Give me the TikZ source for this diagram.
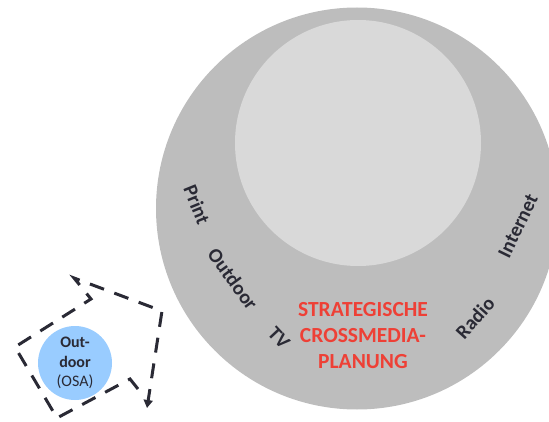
\documentclass[tikz,border=0pt]{standalone}
\usepackage{fontspec}
\setmainfont{Carlito}
\usepackage{tikz}
\usetikzlibrary{arrows.meta}
\usepackage{xcolor}

\definecolor{ringgray}{HTML}{BDBDBD}
\definecolor{coregray}{HTML}{D9D9D9}
\definecolor{mediared}{HTML}{EE4036}
\definecolor{inkdark}{HTML}{2A2A35}
\definecolor{osablue}{HTML}{99CCFF}

\begin{document}
\begin{tikzpicture}[x=1pt, y=-1pt]
    % Define styles
    \tikzstyle{disc} = [circle, inner sep=0pt, draw=none]
    \tikzstyle{channel} = [font=\fontsize{20}{23}\selectfont\bfseries, text=inkdark, inner sep=0pt]
    \tikzstyle{headline} = [font=\fontsize{21.5}{26}\selectfont\bfseries, text=mediared, align=center]
    \tikzstyle{loop} = [line width=3pt, draw=inkdark, dash pattern=on 15pt off 11pt, -{Triangle[width=9pt,length=8pt]}]

    \useasboundingbox (0,0) rectangle (549,422);

    % Nodes
    \node (outer) [disc, fill=ringgray, minimum size=402pt] at (357,208.5) {};
    \node (inner) [disc, fill=coregray, minimum size=246pt] at (358,143) {};

    \node (print) [channel, rotate=-68] at (197,205) {Print};
    \node (outdoor) [channel, rotate=-54] at (233,279) {Outdoor};
    \node (tv) [channel, rotate=-47] at (279,338) {TV};
    \node (radio) [channel, rotate=48] at (475,318) {Radio};
    \node (internet) [channel, rotate=64] at (518,226) {Internet};

    \node (plan) [headline] at (363,336) {STRATEGISCHE\\CROSSMEDIA-\\PLANUNG};

    \node (osa) [disc, fill=osablue, minimum size=74pt, text=inkdark, align=center,
        font=\fontsize{16}{19.5}\selectfont] at (75,363)
        {\textbf{Out-}\\\textbf{door}\\(OSA)};

    % Arrows
    \draw [loop] (138,389) -- (130,379) -- (57,418) -- (15,347) -- (91,299)
        -- (74,278) -- (162,311) -- (147,408);
\end{tikzpicture}
\end{document}
